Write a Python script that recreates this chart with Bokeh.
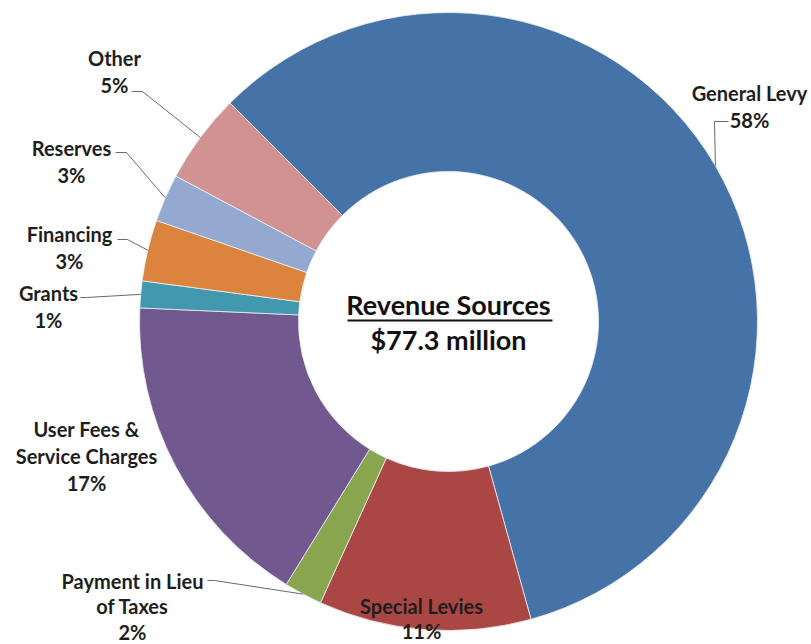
import numpy as np
from bokeh.plotting import figure
from bokeh.models import ColumnDataSource
from bokeh.core.properties import value
from bokeh.embed import file_html
from bokeh.resources import INLINE

# ---- data ----
categories = ["General Levy", "Special Levies", "Payment in Lieu of Taxes",
              "User Fees & Service Charges", "Grants", "Financing", "Reserves", "Other"]
shares = [58.2, 11.1, 2.0, 16.9, 1.4, 3.2, 2.5, 4.7]
pct_labels = ["58%", "11%", "2%", "17%", "1%", "3%", "3%", "5%"]
name_lines = [["General Levy"], ["Special Levies"], ["Payment in Lieu", "of Taxes"],
              ["User Fees &", "Service Charges"], ["Grants"], ["Financing"],
              ["Reserves"], ["Other"]]
colors = ["#4572A7", "#AA4643", "#89A54E", "#71588F", "#4198AF", "#DB843D",
          "#93A9CF", "#D19392"]
title_line1 = "Revenue Sources"
title_line2 = "$77.3 million"

# ---- layout ----
W, H = 811, 644
def Y(py):
    return H - py

cx, cy = 448, Y(321)
r_out, r_in = 309, 150
first_angle = 315.0  # degrees clockwise from 12 o'clock
FONT = value("Lato")
line_gap = 27

# label anchor (center x, first line y in px) and leader (start, elbow) in px
label_pos = {
    "General Levy": (749, 92, [(728, 121), (714, 121)]),
    "Special Levies": (421, 605, None),
    "Payment in Lieu of Taxes": (132, 580, [(207, 580), (214, 580)]),
    "User Fees & Service Charges": (86, 428, None),
    "Grants": (48, 292, [(80, 297), (86, 297)]),
    "Financing": (69, 233, [(117, 239), (127, 239)]),
    "Reserves": (71, 147, [(115, 152), (126, 152)]),
    "Other": (114, 57, [(131, 91), (142, 91)]),
}
gaps = {"Special Levies": 25, "Payment in Lieu of Taxes": 25.5}

vals = np.array(shares, dtype=float)
frac = vals / vals.sum()
cum = np.concatenate([[0], np.cumsum(frac)])
theta_a = first_angle + cum[:-1] * 360.0
theta_b = first_angle + cum[1:] * 360.0
start = np.radians(90.0 - theta_a)
end = np.radians(90.0 - theta_b)
mid_theta = np.radians((theta_a + theta_b) / 2.0)

src = ColumnDataSource(dict(start=start, end=end, color=colors, cat=categories))

p = figure(width=W, height=H, x_range=(0, W), y_range=(0, H),
           output_backend="svg", toolbar_location=None, min_border=0)
p.axis.visible = False
p.grid.visible = False
p.outline_line_color = None
p.background_fill_color = "white"
p.border_fill_color = "white"

p.annular_wedge(x=cx, y=cy, inner_radius=r_in, outer_radius=r_out,
                start_angle="start", end_angle="end", direction="clock",
                fill_color="color", line_color="#eef0f4", line_width=0.8,
                source=src)

# leader lines
for i, cat in enumerate(categories):
    lx, ly, leader = label_pos[cat]
    if leader is not None:
        ex = cx + r_out * np.sin(mid_theta[i])
        ey = cy + r_out * np.cos(mid_theta[i])
        xs = [leader[0][0], leader[1][0], ex]
        ys = [Y(leader[0][1]), Y(leader[1][1]), ey]
        p.line(xs, ys, line_color="#6a6a6a", line_width=1)

# labels
tx, ty, tt = [], [], []
for i, cat in enumerate(categories):
    lx, ly, leader = label_pos[cat]
    g = gaps.get(cat, line_gap)
    lines = name_lines[i] + [pct_labels[i]]
    for k, t in enumerate(lines):
        tx.append(lx)
        ty.append(Y(ly + k * g))
        tt.append(t)
p.text(x=tx, y=ty, text=tt, text_align="center", text_baseline="middle",
       text_font=FONT, text_font_style="bold", text_font_size="20px",
       text_color="#1e1e1e")

# centre title
p.text(x=[cx], y=[Y(304)], text=[title_line1], text_align="center",
       text_baseline="middle", text_font=FONT, text_font_style="bold",
       text_font_size="27px", text_color="#111111")
p.segment(x0=[347], y0=[Y(320)], x1=[552], y1=[Y(320)],
          line_color="#111111", line_width=2)
p.text(x=[cx], y=[Y(339)], text=[title_line2], text_align="center",
       text_baseline="middle", text_font=FONT, text_font_style="bold",
       text_font_size="27px", text_color="#111111")

open("out.html", "w").write(file_html(p, INLINE))
